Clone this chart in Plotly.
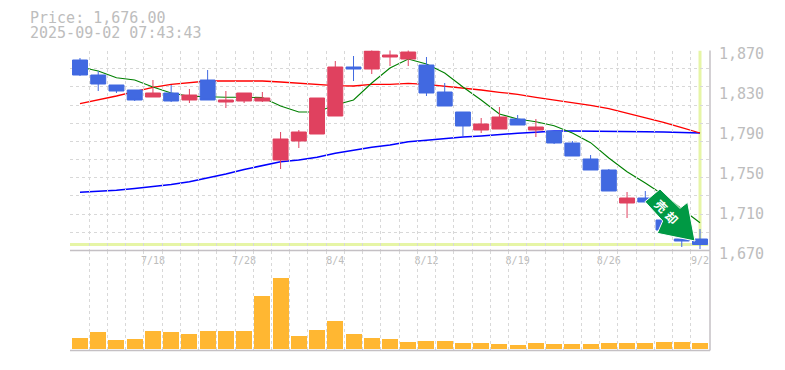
import plotly.graph_objects as go

idx = list(range(35))
open_ = [1860.5,1845.5,1835.5,1830.5,1823.5,1827.5,1820.5,1840.5,1818.5,1819.5,1819.5,1760.5,1779.5,1786.5,1804.5,1853.5,1851.5,1863.5,1861.5,1855.5,1828.5,1808.5,1790.5,1791.5,1801.5,1790.5,1789.5,1777.5,1761.5,1750.5,1717.5,1722.5,1700.5,1681.5,1681.5]
close = [1845.5,1836.5,1829.5,1820.5,1827.5,1819.5,1825.5,1820.5,1820.5,1827.5,1822.5,1781.5,1788.5,1822.5,1853.5,1851.5,1869.5,1865.5,1868.5,1827.5,1814.5,1794.5,1796.5,1803.5,1795.5,1793.5,1777.5,1764.5,1750.5,1729.5,1722.5,1718.5,1690.5,1679.5,1676.0]
high = [1862.5,1849.5,1835.5,1830.5,1840.5,1835.5,1831.5,1850.5,1829.5,1827.5,1828.5,1788.5,1790.5,1822.5,1859.5,1864.5,1870.5,1870.5,1870.5,1863.5,1837.5,1808.5,1802.5,1813.5,1805.5,1801.5,1789.5,1779.5,1765.5,1751.5,1728.5,1729.5,1700.5,1681.5,1691.5]
low = [1844.5,1829.5,1827.5,1819.5,1823.5,1818.5,1817.5,1820.5,1812.5,1817.5,1818.5,1751.5,1772.5,1786.5,1804.5,1839.5,1846.5,1854.5,1854.5,1824.5,1814.5,1784.5,1787.5,1791.5,1795.5,1783.5,1776.5,1764.5,1750.5,1729.5,1702.5,1718.5,1690.5,1673.5,1671.5]
ma_short = [1853.5,1849.5,1842.8,1840.5,1833.5,1827.5,1824.2,1823.5,1823.2,1823.2,1823.0,1814.5,1808.5,1808.5,1815.5,1820.5,1837.5,1852.5,1861.5,1856.5,1847.5,1833.5,1820.5,1806.5,1801.5,1798.8,1794.8,1787.5,1777.8,1762.5,1748.8,1737.5,1725.5,1711.5,1697.8]
ma_mid = [1816.8,1820.5,1824.5,1828.8,1833.2,1836.2,1837.5,1839.5,1839.5,1839.5,1839.5,1838.5,1837.2,1835.5,1834.8,1834.5,1836.2,1836.2,1837.2,1836.2,1834.5,1832.8,1830.5,1828.2,1826.2,1823.2,1820.5,1818.2,1815.2,1811.8,1807.2,1803.2,1798.2,1792.8,1787.5]
ma_long = [1728.2,1729.2,1730.2,1732.0,1733.7,1736.0,1738.7,1742.5,1746.5,1751.0,1755.0,1758.8,1760.5,1763.2,1767.2,1770.5,1773.2,1775.5,1778.8,1780.2,1782.2,1783.5,1784.5,1786.2,1787.2,1788.2,1789.5,1789.5,1789.5,1789.2,1789.0,1788.8,1788.5,1788.0,1787.5]
volume = [11,17,9,10,18,17,15,18,18,18,53,71,13,19,28,15,11,10,7,8,8,6,6,5,4,6,5,5,5,6,6,6,7,7,6]
date_idx = [4,9,14,19,24,29,34]
date_labels = ["7/18","7/28","8/4","8/12","8/19","8/26","9/2"]
price_ticks = [1670,1710,1750,1790,1830,1870]
price_labels = ["1,670","1,710","1,750","1,790","1,830","1,870"]
last_price = 1676.0
title_lines = ["Price: 1,676.00","2025-09-02 07:43:43"]

# The page adds an 8px body margin, so the figure is laid out 8px up and left.
OFF = 8
W, H = 769, 354
L, R, T, M, B = 70 - OFF, 710 - OFF, 50.5 - OFF, 250.5 - OFF, 350.5 - OFF
MONO = "DejaVu Sans Mono"
GRID = "#d8d8d8"
AXIS = "#c4c0c4"
TXT = "#bdbdbd"
BLUE = "#4169e1"
RED = "#e0415f"
YEL = "#e6f5a6"
DASH = "3px,3px"

def ydom(a, b):
    return [1 - b / H, 1 - a / H]

fig = go.Figure()
for vals, col, w in [(ma_long, "#0000ff", 1.5), (ma_mid, "#ff0000", 1.3), (ma_short, "#008000", 1.1)]:
    fig.add_trace(go.Scatter(x=idx, y=vals, mode="lines", line=dict(color=col, width=w),
                             xaxis="x", yaxis="y", hoverinfo="skip", showlegend=False))
fig.add_trace(go.Candlestick(x=idx, open=open_, high=high, low=low, close=close,
    increasing=dict(line=dict(color=RED, width=1), fillcolor=RED),
    decreasing=dict(line=dict(color=BLUE, width=1), fillcolor=BLUE),
    whiskerwidth=0, xaxis="x", yaxis="y", hoverinfo="skip", showlegend=False, zorder=1))
fig.add_trace(go.Bar(x=idx, y=volume, marker=dict(color="#ffb732", line=dict(width=0)), width=0.877,
                     xaxis="x2", yaxis="y2", hoverinfo="skip", showlegend=False))
fig.add_trace(go.Scatter(x=[idx[0]], y=[price_ticks[0]], mode="markers", marker=dict(opacity=0),
                         xaxis="x", yaxis="y3", hoverinfo="skip", showlegend=False))

xrange_ = [-0.548, 34.548]
fig.update_layout(
    width=W, height=H, autosize=False,
    margin=dict(l=0, r=0, t=0, b=0, pad=0, autoexpand=False),
    paper_bgcolor="white", plot_bgcolor="rgba(0,0,0,0)",
    showlegend=False, bargap=0, boxmode="overlay", boxgap=0.18, boxgroupgap=0,
    xaxis=dict(domain=[L / W, R / W], range=xrange_, anchor="y", rangeslider=dict(visible=False),
               tickmode="array", tickvals=date_idx, ticktext=date_labels, ticks="", showgrid=False,
               tickfont=dict(family=MONO, size=10, color=TXT), showline=False,
               zeroline=False, ticklabelstandoff=2,
               minor=dict(showgrid=True, gridcolor=GRID, griddash=DASH, gridwidth=1, tick0=-0.5, dtick=1, ticks="")),
    xaxis2=dict(domain=[L / W, R / W], range=xrange_, anchor="y2", showticklabels=False, ticks="", zeroline=False,
                tick0=-0.5, dtick=1, showgrid=True, gridcolor=GRID, griddash=DASH, gridwidth=1, showline=False),
    yaxis=dict(domain=ydom(T, M), range=[1670, 1870], anchor="x", side="right", showticklabels=False, ticks="",
               tick0=1670, dtick=200 / 11, showgrid=True, gridcolor=GRID, griddash=DASH, gridwidth=1,
               zeroline=False, showline=False),
    yaxis2=dict(domain=ydom(M, B), range=[-2, 98], anchor="x2", side="right", showticklabels=False, ticks="",
                showgrid=False, zeroline=False, showline=False),
    yaxis3=dict(domain=ydom(T, M + 3), range=[1670, 1873], anchor="x", side="right", tickmode="array",
                tickvals=price_ticks, ticktext=price_labels, ticks="", showgrid=False, zeroline=False,
                showline=False, ticklabelstandoff=8,
                tickfont=dict(family=MONO, size=15, color=TXT)),
)
fig.add_shape(type="line", xref="x", yref="y", x0=xrange_[0], x1=34.45, y0=last_price, y1=last_price,
              line=dict(color=YEL, width=3), layer="below")
fig.add_shape(type="line", xref="x", yref="y", x0=34, x1=34, y0=last_price, y1=1870,
              line=dict(color=YEL, width=3), layer="below")
# Panel frame: bottom edges of both panels and the right edge, tied to the axis domains.
for xa, ya in [("x", "y"), ("x2", "y2")]:
    fig.add_shape(type="line", xref=f"{xa} domain", yref=f"{ya} domain", x0=0, x1=1, y0=0, y1=0,
                  line=dict(color=AXIS, width=1.5), layer="above")
    fig.add_shape(type="line", xref=f"{xa} domain", yref=f"{ya} domain", x0=1, x1=1, y0=0, y1=1,
                  line=dict(color=AXIS, width=1.5), layer="above")
arrow = "M -21.8 49.5 L -36.8 36.8 L -19.1 17.5 L -24.5 5.2 L 13.2 -2.5 L 5.9 36.2 L -1.8 30.2 Z"
fig.add_shape(type="path", xsizemode="pixel", ysizemode="pixel", xref="x", yref="y",
              xanchor=33.0, yanchor=1682, path=arrow, fillcolor="#009944",
              line=dict(width=1, color="white"), layer="above")
for (dx, dy, t) in [(-20, 33.5, "売"), (-9.5, 21, "却")]:
    fig.add_annotation(xref="x", yref="y", x=33.0, y=1682, xshift=dx, yshift=dy, text=t, showarrow=False,
                       textangle=45, font=dict(family="Noto Sans CJK JP", size=12, color="white", weight=700))
for i, line in enumerate(title_lines):
    fig.add_annotation(xref="paper", yref="paper", x=(29 - OFF) / W, y=1 - (18 + 15 * i - OFF) / H, xanchor="left", yanchor="middle",
                       xshift=-1, text=line, showarrow=False, font=dict(family=MONO, size=15, color=TXT))
fig.write_html("out.html", config=dict(displayModeBar=False))
